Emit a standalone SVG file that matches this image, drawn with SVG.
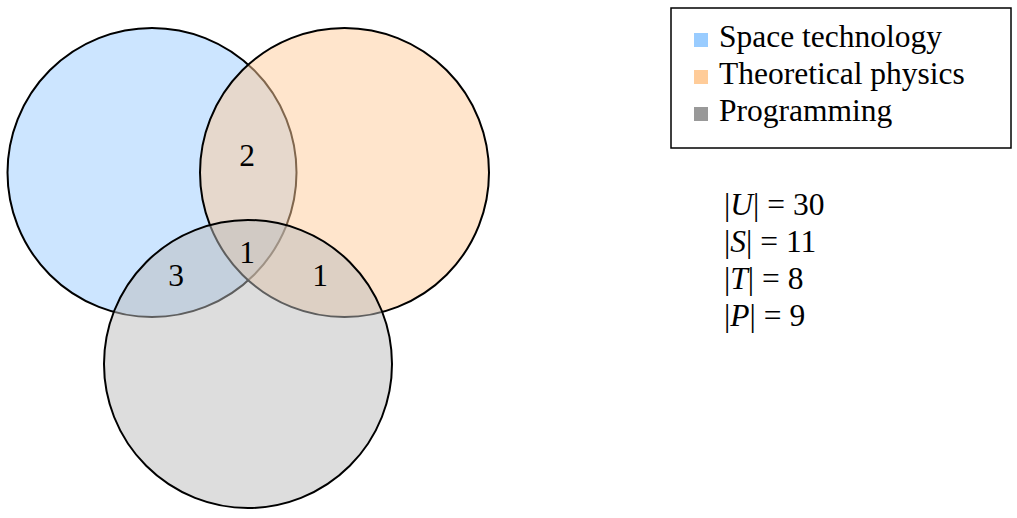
<svg xmlns="http://www.w3.org/2000/svg" width="1017" height="518" viewBox="0 0 1017 518">
<style>
.set{stroke:#000;stroke-width:2;fill-opacity:0.5}
.t{font-family:"Liberation Serif","Times New Roman",serif;font-size:31.5px;fill:#000}
.n{font-family:"Liberation Serif","Times New Roman",serif;font-size:31.5px;fill:#000;text-anchor:middle}
</style>
<rect width="1017" height="518" fill="#fff"/>
<g id="sets">
<g id="space"><circle class="set" cx="152" cy="172.5" r="144.5" fill="#99ccff"/></g>
<g id="theory"><circle class="set" cx="344.5" cy="172.5" r="144.5" fill="#ffcc99"/></g>
<g id="programming"><circle class="set" cx="248" cy="364" r="144" fill="#bbbbbb"/></g>
</g>
<g id="counts">
<text class="n" x="247" y="166">2</text>
<text class="n" x="247" y="263">1</text>
<text class="n" x="176" y="286">3</text>
<text class="n" x="320" y="286">1</text>
</g>
<g id="legend">
<rect x="671" y="8" width="340" height="140" fill="#fff" stroke="#000" stroke-width="1.5"/>
<rect x="694" y="33" width="14" height="14" fill="#99ccff"/>
<rect x="694" y="70" width="14" height="14" fill="#ffcc99"/>
<rect x="694" y="107" width="14" height="14" fill="#999999"/>
<text class="t" x="719" y="47">Space technology</text>
<text class="t" x="719" y="84">Theoretical physics</text>
<text class="t" x="719" y="121">Programming</text>
</g>
<g id="stats">
<text class="t" x="724" y="215">|<tspan font-style="italic">U</tspan>| = 30</text>
<text class="t" x="724" y="252">|<tspan font-style="italic">S</tspan>| = 11</text>
<text class="t" x="724" y="289">|<tspan font-style="italic">T</tspan>| = 8</text>
<text class="t" x="724" y="326">|<tspan font-style="italic">P</tspan>| = 9</text>
</g>
</svg>
